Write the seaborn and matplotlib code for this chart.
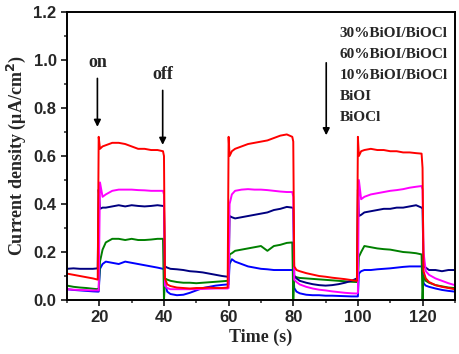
import numpy as np
import pandas as pd
import seaborn as sns
from matplotlib import pyplot as plt
from matplotlib.ticker import MultipleLocator

sns.set_style('ticks')
plt.rcParams['font.family'] = ['Liberation Sans', 'DejaVu Sans']

# time axis (s): off / edge / on / edge ... segments
time = [10, 12, 14, 16, 18, 19.5,
        19.8, 20.2,
        21, 22, 24, 26, 28, 30, 32, 34, 36, 38, 39.7,
        40.0, 40.3,
        41, 42, 44, 46, 48, 50, 52, 54, 56, 58, 59.7,
        60.0, 60.3,
        61, 62, 64, 66, 68, 70, 72, 74, 76, 78, 79.7,
        80.0, 80.3,
        81, 82, 84, 86, 88, 90, 92, 94, 96, 98, 99.7,
        100.0, 100.3,
        101, 102, 104, 106, 108, 110, 112, 114, 116, 118, 119.7,
        120.0, 120.3,
        121, 122, 124, 126, 128, 130]

bioi30 = [0.110, 0.105, 0.100, 0.095, 0.090, 0.085,
          0.68, 0.63,
          0.640, 0.645, 0.655, 0.655, 0.650, 0.640, 0.630, 0.630, 0.625, 0.625, 0.620,
          0.60, 0.09,
          0.065, 0.058, 0.052, 0.050, 0.048, 0.050, 0.050, 0.052, 0.050, 0.050, 0.052,
          0.68, 0.60,
          0.620, 0.630, 0.640, 0.650, 0.655, 0.660, 0.665, 0.675, 0.685, 0.690, 0.680,
          0.66, 0.14,
          0.125, 0.120, 0.112, 0.106, 0.100, 0.097, 0.093, 0.090, 0.087, 0.083, 0.080,
          0.68, 0.60,
          0.620, 0.625, 0.630, 0.625, 0.625, 0.620, 0.620, 0.615, 0.615, 0.612, 0.610,
          0.55, 0.12,
          0.090, 0.075, 0.062, 0.055, 0.050, 0.045]

bioi60 = [0.045, 0.043, 0.042, 0.041, 0.040, 0.040,
          0.040, 0.49,
          0.430, 0.440, 0.455, 0.460, 0.460, 0.460, 0.458, 0.457, 0.455, 0.455, 0.455,
          0.44, 0.06,
          0.050, 0.045, 0.045, 0.045, 0.045, 0.045, 0.046, 0.047, 0.048, 0.048, 0.048,
          0.05, 0.40,
          0.440, 0.455, 0.460, 0.462, 0.460, 0.460, 0.458, 0.455, 0.452, 0.450, 0.450,
          0.43, 0.085,
          0.075, 0.065, 0.055, 0.048, 0.043, 0.040, 0.036, 0.033, 0.030, 0.028, 0.027,
          0.03, 0.50,
          0.420, 0.430, 0.440, 0.445, 0.450, 0.455, 0.458, 0.462, 0.468, 0.472, 0.475,
          0.46, 0.20,
          0.120, 0.105, 0.090, 0.080, 0.070, 0.062]

bioi10 = [0.130, 0.132, 0.130, 0.130, 0.130, 0.132,
          0.46, 0.38,
          0.385, 0.385, 0.390, 0.395, 0.390, 0.395, 0.392, 0.390, 0.392, 0.395, 0.392,
          0.39, 0.14,
          0.135, 0.130, 0.128, 0.125, 0.120, 0.118, 0.115, 0.110, 0.105, 0.100, 0.097,
          0.10, 0.35,
          0.345, 0.340, 0.345, 0.350, 0.355, 0.360, 0.365, 0.375, 0.380, 0.388, 0.385,
          0.38, 0.10,
          0.090, 0.080, 0.072, 0.066, 0.062, 0.060, 0.062, 0.066, 0.072, 0.080, 0.090,
          0.46, 0.35,
          0.355, 0.365, 0.370, 0.375, 0.380, 0.380, 0.385, 0.385, 0.390, 0.395, 0.385,
          0.38, 0.14,
          0.135, 0.125, 0.125, 0.120, 0.125, 0.125]

bioi = [0.060, 0.055, 0.052, 0.050, 0.047, 0.045,
        0.045, 0.16,
        0.210, 0.240, 0.255, 0.255, 0.250, 0.255, 0.250, 0.250, 0.252, 0.255, 0.255,
        0.0, 0.09,
        0.085, 0.080, 0.075, 0.072, 0.072, 0.070, 0.072, 0.074, 0.076, 0.078, 0.080,
        0.08, 0.19,
        0.195, 0.205, 0.210, 0.215, 0.220, 0.225, 0.205, 0.225, 0.230, 0.238, 0.240,
        0.0, 0.10,
        0.095, 0.092, 0.090, 0.088, 0.086, 0.084, 0.082, 0.080, 0.078, 0.076, 0.075,
        0.075, 0.18,
        0.200, 0.225, 0.220, 0.215, 0.212, 0.210, 0.205, 0.200, 0.198, 0.195, 0.190,
        0.0, 0.10,
        0.080, 0.072, 0.062, 0.057, 0.052, 0.050]

biocl = [0.045, 0.042, 0.040, 0.038, 0.036, 0.035,
         0.035, 0.13,
         0.150, 0.160, 0.155, 0.150, 0.160, 0.155, 0.150, 0.145, 0.140, 0.135, 0.130,
         0.13, 0.07,
         0.035, 0.025, 0.020, 0.022, 0.030, 0.040, 0.050, 0.055, 0.060, 0.063, 0.065,
         0.065, 0.15,
         0.170, 0.160, 0.150, 0.140, 0.135, 0.130, 0.128, 0.125, 0.125, 0.125, 0.125,
         0.12, 0.05,
         0.035, 0.028, 0.022, 0.020, 0.020, 0.018, 0.018, 0.017, 0.016, 0.015, 0.015,
         0.015, 0.11,
         0.120, 0.125, 0.125, 0.128, 0.130, 0.132, 0.135, 0.138, 0.140, 0.140, 0.140,
         0.14, 0.07,
         0.060, 0.055, 0.048, 0.042, 0.038, 0.035]

labels = ['30%BiOI/BiOCl', '60%BiOI/BiOCl', '10%BiOI/BiOCl', 'BiOI', 'BiOCl']
colors = ['#ff0000', '#ff00ff', '#000080', '#008000', '#0000ff']

df = pd.DataFrame({'time': time, labels[0]: bioi30, labels[1]: bioi60,
                   labels[2]: bioi10, labels[3]: bioi, labels[4]: biocl})
long_df = df.melt(id_vars='time', var_name='sample', value_name='current')

fig = plt.figure(figsize=(4.59, 3.54), dpi=100)
ax = fig.add_axes([0.146, 0.1525, 0.845, 0.8135])

# draw in reverse so the red curve ends up on top
sns.lineplot(data=long_df, x='time', y='current', hue='sample',
             hue_order=labels[::-1], palette=colors[::-1], lw=1.4,
             legend=False, ax=ax, estimator=None, sort=False)

ax.set_xlim(10, 130)
ax.set_ylim(0, 1.2)
ax.xaxis.set_major_locator(MultipleLocator(20))
ax.xaxis.set_minor_locator(MultipleLocator(10))
ax.yaxis.set_major_locator(MultipleLocator(0.2))
ax.yaxis.set_minor_locator(MultipleLocator(0.1))
ax.tick_params(which='major', direction='out', length=4, width=1.3,
               top=False, right=False, labelsize=12)
ax.tick_params(which='minor', direction='out', length=2.5, width=1.1,
               top=False, right=False)
for lab in ax.get_xticklabels() + ax.get_yticklabels():
    lab.set_fontweight('bold')
for sp in ax.spines.values():
    sp.set_linewidth(1.4)
    sp.set_color('black')

serif = ['Liberation Serif', 'DejaVu Serif']
ax.set_xlabel('Time (s)', family=serif, fontweight='bold', fontsize=13, labelpad=2)
ax.set_ylabel('Current density (\u03bcA/cm$^\\mathbf{2}$)', family=serif,
              fontweight='bold', fontsize=13, labelpad=4)

# legend text only, as in the original
for i, lab in enumerate(labels):
    ax.text(0.703, 0.927 - i * 0.073, lab, transform=ax.transAxes, family=serif,
            fontweight='bold', fontsize=11, va='center', ha='left')

arrow = dict(arrowstyle='-|>', color='black', lw=1.2, mutation_scale=10)
ax.annotate('', xy=(19.4, 0.71), xytext=(19.4, 0.935), arrowprops=arrow)
ax.text(19.4, 0.99, 'on', family=serif, fontweight='bold', fontsize=13,
        ha='center', va='center')
ax.annotate('', xy=(39.6, 0.635), xytext=(39.6, 0.885), arrowprops=arrow)
ax.text(39.6, 0.94, 'off', family=serif, fontweight='bold', fontsize=13,
        ha='center', va='center')
ax.annotate('', xy=(90.2, 0.675), xytext=(90.2, 1.0), arrowprops=arrow)

fig.savefig('out.png', dpi=100)
